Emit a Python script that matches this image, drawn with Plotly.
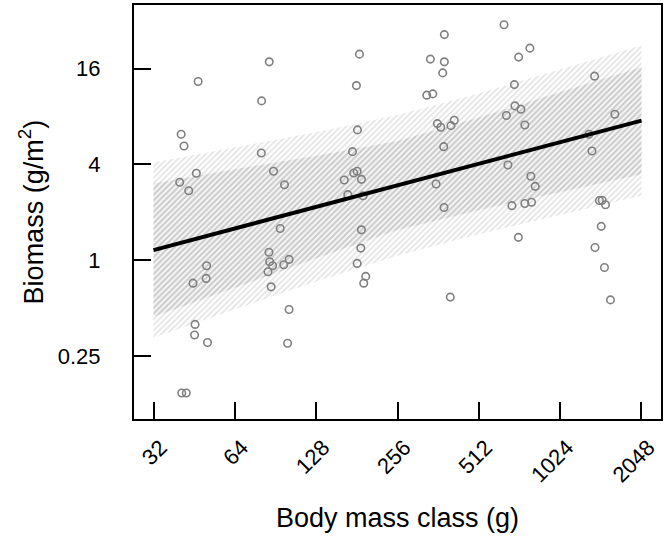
import numpy as np
import plotly.graph_objects as go

# ---- data ----
body_mass = [46.8, 40.5, 41.5, 46.1, 40.0, 43.2, 85.8, 80.4, 80.2, 89.0, 97.7,
             185.1, 180.4, 182.0, 174.4, 181.5, 176.3, 188.3, 162.6, 167.6, 191.0,
             94.2, 85.6, 86.1, 88.3, 84.9, 87.2, 97.1, 101.6, 101.6, 100.3,
             50.3, 50.1, 44.8, 45.6, 45.4, 50.7, 40.7, 42.3,
             188.3, 187.2, 181.5, 195.3, 192.0,
             381.6, 338.8, 381.6, 376.4, 328.5, 345.8, 359.5, 370.1, 403.7, 415.2,
             379.6, 355.6, 380.6,
             634.7, 718.8, 791.1, 693.2, 696.6, 732.6, 647.6, 757.9, 656.2, 797.7,
             828.1, 679.0, 757.9, 802.3,
             1373, 1632, 1309, 1343, 1431, 1465, 1507, 1453, 1378, 1494, 1572,
             717.2, 401.5]
biomass = [13.27, 6.19, 5.22, 3.52, 3.09, 2.73, 17.66, 10.03, 4.72, 3.62, 2.98,
           19.74, 12.52, 6.59, 4.81, 3.62, 3.53, 3.22, 3.19, 2.58, 2.54,
           1.58, 1.12, 0.976, 0.921, 0.844, 0.679, 0.934, 1.01, 0.489, 0.300,
           0.921, 0.767, 0.716, 0.394, 0.338, 0.303, 0.146, 0.146,
           1.55, 1.19, 0.953, 0.790, 0.716,
           26.2, 18.37, 17.66, 15.05, 10.90, 11.10, 7.22, 6.85, 7.01, 7.58,
           5.17, 3.01, 2.14,
           30.2, 18.91, 21.54, 12.70, 9.33, 8.89, 8.11, 7.08, 3.96, 3.37,
           2.91, 2.20, 2.27, 2.31,
           14.35, 8.27, 6.19, 4.86, 2.37, 2.38, 2.23, 1.63, 1.20, 0.899, 0.562,
           1.39, 0.585]

fit_x = [32, 2048]
fit_y = [1.156, 7.54]

band_x = [32, 64, 128, 256, 512, 1024, 2048]
outer_upper = [4.11, 5.10, 6.37, 8.17, 11.17, 15.81, 22.38]
outer_lower = [0.325, 0.490, 0.733, 1.065, 1.456, 1.923, 2.539]
inner_upper = [3.03, 3.73, 4.53, 5.62, 7.90, 11.34, 16.38]
inner_lower = [0.441, 0.669, 1.029, 1.549, 2.059, 2.682, 3.468]

x_ticks = [32, 64, 128, 256, 512, 1024, 2048]
x_ticklabels = ["32", "64", "128", "256", "512", "1024", "2048"]
y_ticks = [0.25, 1, 4, 16]
y_ticklabels = ["0.25", "1", "4", "16"]

FONT = "Liberation Sans, Arial, sans-serif"

fig = go.Figure()

fig.add_trace(go.Scatter(
    x=band_x + band_x[::-1], y=outer_upper + outer_lower[::-1],
    mode="lines", line=dict(width=0), fill="toself",
    fillcolor="rgba(0,0,0,0)",
    fillpattern=dict(shape="/", fgcolor="rgb(200,200,200)", bgcolor="rgba(255,255,255,0)",
                     size=4, solidity=0.45),
    hoverinfo="skip", showlegend=False))
fig.add_trace(go.Scatter(
    x=band_x + band_x[::-1], y=inner_upper + inner_lower[::-1],
    mode="lines", line=dict(width=0), fill="toself",
    fillcolor="rgba(0,0,0,0)",
    fillpattern=dict(shape="/", fgcolor="rgb(180,180,180)", bgcolor="rgba(225,225,225,0.25)",
                     size=4, solidity=0.5),
    hoverinfo="skip", showlegend=False))

fig.add_trace(go.Scatter(
    x=body_mass, y=biomass, mode="markers",
    marker=dict(symbol="circle-open", size=7.5, color="#808080",
                line=dict(width=1.6, color="#808080")),
    showlegend=False))

fig.add_trace(go.Scatter(
    x=fit_x, y=fit_y, mode="lines",
    line=dict(color="black", width=4), showlegend=False))

L2 = np.log10(2)
fig.update_xaxes(
    type="log", range=[4.76 * L2, 11.24 * L2],
    tickmode="array", tickvals=x_ticks, ticktext=x_ticklabels,
    ticks="inside", ticklen=17, tickwidth=2, tickcolor="black",
    showline=True, linewidth=2, linecolor="black", mirror=True,
    showgrid=False, zeroline=False, tickangle=-45,
    tickfont=dict(family=FONT, size=22, color="black"),
    ticklabelstandoff=5, ticklabelshift=7)
fig.update_yaxes(
    type="log", range=[-3.32 * L2, 5.33 * L2],
    tickmode="array", tickvals=y_ticks, ticktext=y_ticklabels,
    ticks="inside", ticklen=17, tickwidth=2, tickcolor="black",
    showline=True, linewidth=2, linecolor="black", mirror=True,
    showgrid=False, zeroline=False,
    tickfont=dict(family=FONT, size=22, color="black"),
    ticklabelstandoff=27)

fig.add_annotation(text="Body mass class (g)", xref="paper", yref="paper",
                   x=0.5, y=-0.239, xanchor="center", yanchor="middle",
                   showarrow=False, font=dict(family=FONT, size=27, color="black"))
fig.add_annotation(text="Biomass (g/m<sup>2</sup>)", xref="paper", yref="paper",
                   x=-0.1947, y=0.5, xanchor="center", yanchor="middle", textangle=-90,
                   showarrow=False, font=dict(family=FONT, size=27, color="black"))

fig.update_layout(
    width=664, height=537,
    margin=dict(l=134, r=1, t=5, b=118),
    paper_bgcolor="white", plot_bgcolor="white",
    showlegend=False)

fig.write_html("out.html")
